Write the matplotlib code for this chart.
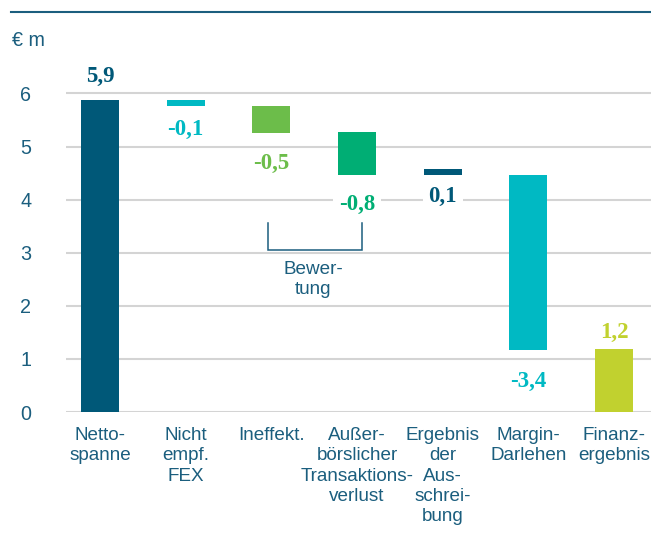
import matplotlib
matplotlib.use("Agg")
import matplotlib.pyplot as plt
from matplotlib import font_manager
from matplotlib.lines import Line2D

# ---- data ----
categories = ["Netto-\nspanne", "Nicht\nempf.\nFEX", "Ineffekt.",
              "Außer-\nbörslicher\nTransaktions-\nverlust",
              "Ergebnis\nder\nAus-\nschrei-\nbung",
              "Margin-\nDarlehen", "Finanz-\nergebnis"]
bar_bottom = [0.0, 5.76, 5.26, 4.47, 4.47, 1.17, 0.0]
bar_top = [5.87, 5.87, 5.76, 5.27, 4.58, 4.46, 1.19]
value_labels = ["5,9", "-0,1", "-0,5", "-0,8", "0,1", "-3,4", "1,2"]
yticks = [0, 1, 2, 3, 4, 5, 6]

# ---- styles ----
colors = ["#005878", "#00b9c3", "#6cbd4a", "#00ae74", "#005878", "#00b9c3", "#c1d12f"]
label_above = [True, False, False, False, False, False, True]
label_offset_px = [24, 23, 31, 30, 22, 32, 16]
label_box = [False, False, False, True, True, False, False]
text_blue = "#1b5e7e"

available = {f.name for f in font_manager.fontManager.ttflist}
sans = "Liberation Sans Narrow" if "Liberation Sans Narrow" in available else "Liberation Sans"
serif = "Liberation Serif"
fs = 13.6
ls = 1.24

W, H = 651, 549
fig = plt.figure(figsize=(W / 100, H / 100), dpi=100)
ppu = 53.1
y0_px = 412
top_val = 6.6
ax = fig.add_axes([66 / W, (H - y0_px) / H, 585 / W, top_val * ppu / H])

x = list(range(len(categories)))
heights = [t - b for t, b in zip(bar_top, bar_bottom)]
ax.bar(x, heights, bottom=bar_bottom, width=0.443, color=colors, zorder=3)

ax.set_xlim(-0.397, 6.43)
ax.set_ylim(0, top_val)
ax.set_yticks(yticks)
ax.set_yticklabels([str(v) for v in yticks])
ax.yaxis.grid(True, color="#d4d4d4", linewidth=1.5, zorder=0)
ax.set_axisbelow(True)
for s in ax.spines.values():
    s.set_visible(False)
ax.tick_params(axis="y", length=0, pad=29, labelsize=fs + 0.6, labelcolor=text_blue)
for lbl in ax.get_yticklabels():
    lbl.set_fontfamily(sans)
    lbl.set_horizontalalignment("center")
ax.set_xticks(x)
ax.set_xticklabels(categories, fontfamily=sans, fontsize=fs, color=text_blue,
                   linespacing=ls, va="top")
ax.tick_params(axis="x", length=0, pad=11)
# "Ineffekt." sits slightly left of the bar centre in the reference
ax.get_xticklabels()[2].set_x(1.93)

for i in x:
    if label_above[i]:
        yv, dy = bar_top[i], label_offset_px[i]
    else:
        yv, dy = bar_bottom[i], -label_offset_px[i]
    bbox = dict(facecolor="white", edgecolor="none", pad=4) if label_box[i] else None
    ax.annotate(value_labels[i], (i, yv), xytext=(0, dy * 0.72), textcoords="offset points",
                ha="center", va="center", fontsize=16.5, fontweight="bold",
                fontfamily=serif, color=colors[i], bbox=bbox, zorder=4)

# bracket "Bewertung"
bx0, bx1, by0, by1 = 1.955, 3.06, 3.56, 3.05
ax.plot([bx0, bx0, bx1, bx1], [by0, by1, by1, by0], color=text_blue, lw=1.1, zorder=4,
        solid_joinstyle="miter")
ax.text((bx0 + bx1) / 2 - 0.02, 2.5, "Bewer-\ntung", ha="center", va="center",
        fontfamily=sans, fontsize=fs, color=text_blue, linespacing=ls)

# top rule and unit
fig.add_artist(Line2D([11 / W, 1.0], [1 - 12 / H, 1 - 12 / H], color="#1b5e7e", lw=1.5))
fig.text(12 / W, 1 - 41 / H, "€ m", fontfamily=sans, fontsize=fs + 0.6, color=text_blue,
         ha="left", va="center")

fig.savefig("out.png", dpi=100)
